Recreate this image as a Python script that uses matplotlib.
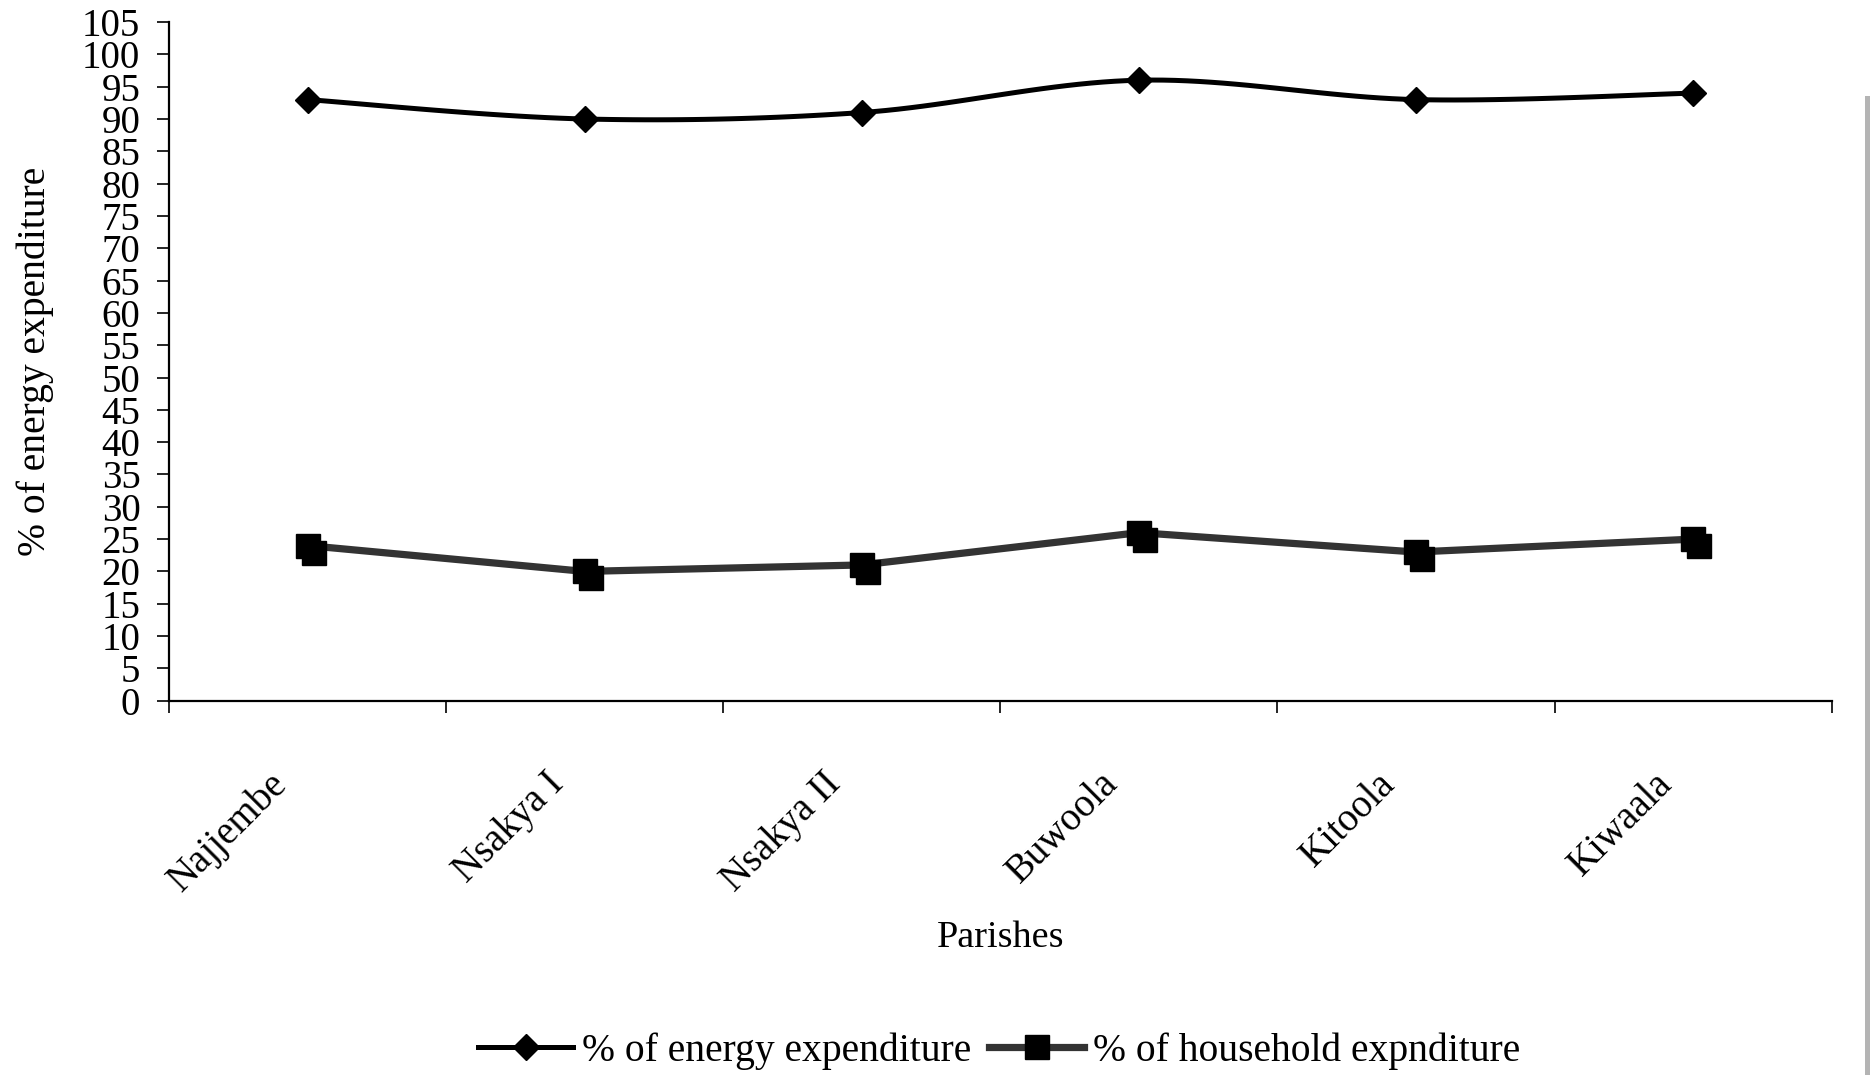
import numpy as np
import matplotlib
matplotlib.use("Agg")
import matplotlib.pyplot as plt
from matplotlib.lines import Line2D
from matplotlib import transforms

parishes = ["Najjembe", "Nsakya I", "Nsakya II", "Buwoola", "Kitoola", "Kiwaala"]
energy_pct = [93, 90, 91, 96, 93, 94]
household_pct = [24, 20, 21, 26, 23, 25]
y_ticks = list(range(0, 106, 5))

plt.rcParams["font.family"] = ["Liberation Serif", "DejaVu Serif"]

DPI = 100
fig = plt.figure(figsize=(18.71, 10.75), dpi=DPI)
ax = fig.add_axes([0.0903, 0.3482, 0.9790 - 0.0903, 0.9795 - 0.3482])


def smooth_curve(x, y, n=24):
    """Bezier smoothing through every point (tangents from neighbouring points)."""
    x = np.asarray(x, float)
    y = np.asarray(y, float)
    px = np.concatenate([[x[0]], x, [x[-1]]])
    py = np.concatenate([[y[0]], y, [y[-1]]])
    xs, ys = [], []
    t = np.linspace(0, 1, n)
    for i in range(len(x) - 1):
        p0 = np.array([x[i], y[i]])
        p3 = np.array([x[i + 1], y[i + 1]])
        p1 = p0 + (np.array([px[i + 2], py[i + 2]]) - np.array([px[i], py[i]])) / 6
        p2 = p3 - (np.array([px[i + 3], py[i + 3]]) - np.array([px[i + 1], py[i + 1]])) / 6
        b = ((1 - t) ** 3)[:, None] * p0 + (3 * (1 - t) ** 2 * t)[:, None] * p1 \
            + (3 * (1 - t) * t ** 2)[:, None] * p2 + (t ** 3)[:, None] * p3
        xs.extend(b[:, 0])
        ys.extend(b[:, 1])
    return xs, ys


xpos = np.arange(len(parishes))

# energy share: smoothed black line with diamond markers
sx, sy = smooth_curve(xpos, energy_pct)
ax.plot(sx, sy, color="black", lw=3.6, solid_joinstyle="round", zorder=3)
ax.plot(xpos, energy_pct, ls="none", marker="D", ms=13.5, color="black", zorder=4)

# household share: thick dark grey line with doubled square markers
ax.plot(xpos, household_pct, color="#333333", lw=5.2, zorder=3)
shadow = transforms.offset_copy(ax.transData, fig=fig, x=6, y=-7, units="dots")
ax.plot(xpos, household_pct, ls="none", marker="s", ms=17, color="black",
        markeredgewidth=1, markeredgecolor="black", transform=shadow, zorder=4)
ax.plot(xpos, household_pct, ls="none", marker="s", ms=17, color="black",
        markeredgewidth=1, markeredgecolor="black", zorder=5)

ax.set_xlim(-0.5, len(parishes) - 0.5)
ax.set_ylim(0, 105)

ax.set_yticks(y_ticks)
ax.set_yticklabels([str(v) for v in y_ticks], fontsize=28)
ax.tick_params(axis="y", direction="out", length=8.6, width=1.2, pad=12)

# category boundaries carry the tick marks, labels sit at the centres
ax.set_xticks(np.arange(len(parishes) + 1) - 0.5)
ax.set_xticklabels([])
ax.tick_params(axis="x", which="major", direction="out", length=8.6, width=1.2)
ax.set_xticks(xpos, minor=True)
ax.set_xticklabels(parishes, minor=True, fontsize=28, rotation=45,
                   ha="right", va="center", rotation_mode="anchor")
ax.tick_params(axis="x", which="minor", length=0, pad=56)
lbl_shift = transforms.ScaledTranslation(-26 / DPI, 0, fig.dpi_scale_trans)
for lbl in ax.get_xticklabels(minor=True):
    lbl.set_transform(lbl.get_transform() + lbl_shift)

for side in ("top", "right"):
    ax.spines[side].set_visible(False)
for side in ("left", "bottom"):
    ax.spines[side].set_linewidth(1.6)

ax.set_ylabel("% of energy expenditure", fontsize=28.5)
ax.yaxis.set_label_coords(-0.069, 0.50)
ax.set_xlabel("Parishes", fontsize=27.5)
ax.xaxis.set_label_coords(0.50, -0.324)

handles = [
    Line2D([], [], color="black", lw=3.6, marker="D", ms=13.5),
    Line2D([], [], color="#333333", lw=5.2, marker="s", ms=17, markerfacecolor="black",
           markeredgecolor="black"),
]
fig.legend(handles, ["% of energy expenditure", "% of household expnditure"],
           loc="center", bbox_to_anchor=(0.534, 0.022), ncol=2, frameon=False,
           fontsize=28.5, handlelength=2.4, handletextpad=0.22, columnspacing=0.45)

# grey frame edge on the right
fig.add_artist(Line2D([1866.5 / 1871, 1866.5 / 1871], [0, 1 - 98 / 1075],
                      transform=fig.transFigure, color="#b4b4b4", lw=3.6))

fig.savefig("out.png", dpi=DPI, facecolor="white")
